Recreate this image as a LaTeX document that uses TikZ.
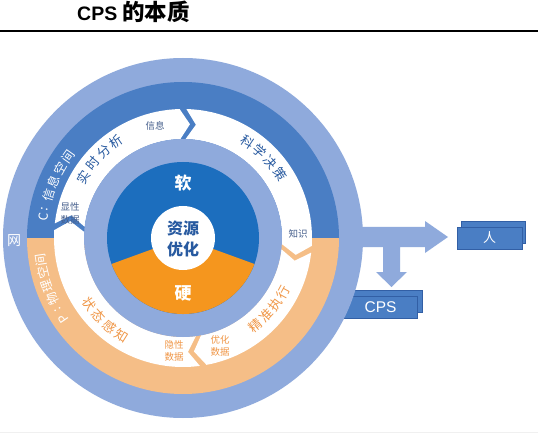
\documentclass[tikz,border=0pt]{standalone}
\usepackage{fontspec}
\setmainfont{Liberation Sans}
\newfontfamily\cjk{Noto Sans CJK SC}
\definecolor{ringblue}{RGB}{143,170,220}
\definecolor{bandblue}{RGB}{74,126,196}
\definecolor{coreblue}{RGB}{28,110,190}
\definecolor{coreorange}{RGB}{245,150,30}
\definecolor{bandorange}{RGB}{245,190,135}
\definecolor{txtblue}{RGB}{40,90,160}
\definecolor{txtorange}{RGB}{240,150,70}
\definecolor{lblblue}{RGB}{70,95,140}
\definecolor{boxblue}{RGB}{74,126,196}
\definecolor{boxedge}{RGB}{50,95,165}
\begin{document}
\begin{tikzpicture}[x=1pt,y=1pt,
  box/.style={draw=boxedge, line width=0.6pt, fill=boxblue, minimum height=22pt, inner sep=0pt, text=white},
  bandtxt/.style={text=white, inner sep=0pt, font=\cjk\fontsize{12.5}{12.5}\selectfont},
  arctxt/.style={inner sep=0pt, font=\cjk\fontsize{13}{13}\selectfont},
  smalllbl/.style={inner sep=0pt, align=center, font=\cjk\fontsize{9.5}{12.5}\selectfont},
  corelbl/.style={inner sep=0pt, align=center, font=\cjk\bfseries\fontsize{17}{21}\selectfont}]
\useasboundingbox (0,0) rectangle (538,437);
\fill[white] (0,0) rectangle (538,437);
% title
\node[anchor=base west, inner sep=0pt] (title) at (77,416) {\bfseries\fontsize{19.5}{19.5}\selectfont CPS\hspace{5pt}\cjk\fontsize{22.5}{22.5}\selectfont 的本质};
\draw[line width=2.5pt] (0,406) -- (538,406);
\draw[gray!12, line width=1pt] (0,5) -- (538,5);
% arrows to the right
\fill[ringblue] (340,210) -- (425,210) -- (425,216) -- (448,200) -- (425,184) -- (425,190)
  -- (400,190) -- (400,165) -- (407,165) -- (391.5,150) -- (376,165) -- (383,165) -- (383,190)
  -- (340,190) -- cycle;
% boxes
\node[box, minimum width=64pt] (renback) at (493,204.5) {};
\node[box, minimum width=65pt, font=\cjk\fontsize{13}{13}\selectfont] (ren) at (489.5,199) {人};
\node[box, minimum width=72pt] (cpsback) at (386,136) {};
\node[box, minimum width=73pt, font=\fontsize{15.5}{15.5}\selectfont] (cps) at (380.5,130) {CPS};
% circle
\begin{scope}[shift={(183,199)}]
\fill[ringblue] (0,0) circle[radius=180];
\fill[bandblue] (0:156) arc[start angle=0,end angle=180,radius=156] -- cycle;
\fill[bandorange] (180:156) arc[start angle=180,end angle=360,radius=156] -- cycle;
\foreach \s/\e in {175/90, 90/-5, -5/-81, -81/-185} {
  \pgfmathsetmacro\a{\s-1.5}
  \pgfmathsetmacro\b{\e+1.5}
  \pgfmathsetmacro\bt{\b-5}
  \pgfmathsetmacro\at{\a-5}
  \fill[white] (\a:129) arc[start angle=\a, end angle=\b, radius=129] -- (\bt:114)
    -- (\b:99) arc[start angle=\b, end angle=\a, radius=99] -- (\at:114) -- cycle;
}
\fill[ringblue] (0,0) circle[radius=99];
\fill[coreblue] (0,0) circle[radius=76];
\fill[coreorange] (0,0) -- (200:76) arc[start angle=200,end angle=340,radius=76] -- cycle;
\fill[white] (0,0) circle[radius=32];
% core labels
\node[corelbl, text=white] (soft) at (0,55) {软};
\node[corelbl, text=white] (hard) at (0,-55) {硬};
\node[corelbl, text=txtblue, font=\cjk\bfseries\fontsize{16}{21}\selectfont] (opt) at (0,-1) {资源\\优化};
\node[bandtxt, font=\cjk\fontsize{14}{14}\selectfont] (net) at (-169,-3) {网};
% band labels
\foreach \t/\c [count=\i] in {171.5/C, 168/:, 162.5/信, 156.5/息, 150.5/空, 144.8/间}
  \node[bandtxt, rotate=\t-90] (cl\i) at (\t:141) {\c};
\foreach \t/\c [count=\i] in {214/P, 210/:, 204.8/物, 199.4/理, 194/空, 188.6/间}
  \node[bandtxt, rotate=\t-90] (pl\i) at (\t:144) {\c};
% arc labels
\foreach \t/\c [count=\i] in {148.5/实, 140.6/时, 132.7/分, 124.8/析}
  \node[arctxt, text=txtblue, rotate=\t-90] (sa\i) at (\t:117) {\c};
\foreach \t/\c [count=\i] in {56/科, 48.5/学, 41/决, 33.5/策}
  \node[arctxt, text=txtblue, rotate=\t-90] (kx\i) at (\t:116) {\c};
\foreach \t/\c [count=\i] in {215/状, 222.7/态, 230.3/感, 238/知}
  \node[arctxt, text=txtorange, rotate=\t+90] (zt\i) at (\t:115) {\c};
\foreach \t/\c [count=\i] in {-50.4/精, -43/准, -35.7/执, -28.3/行}
  \node[arctxt, text=txtorange, rotate=\t+90] (jz\i) at (\t:114) {\c};
% small labels
\node[smalllbl, text=lblblue] (info) at (-28,112) {信息};
\node[smalllbl, text=lblblue] (explicit) at (-113,24.5) {显性\\数据};
\node[smalllbl, text=lblblue] (know) at (115,4) {知识};
\node[smalllbl, text=txtorange] (implicit) at (-9,-113) {隐性\\数据};
\node[smalllbl, text=txtorange] (optdata) at (37,-108) {优化\\数据};
\end{scope}
\end{tikzpicture}
\end{document}
